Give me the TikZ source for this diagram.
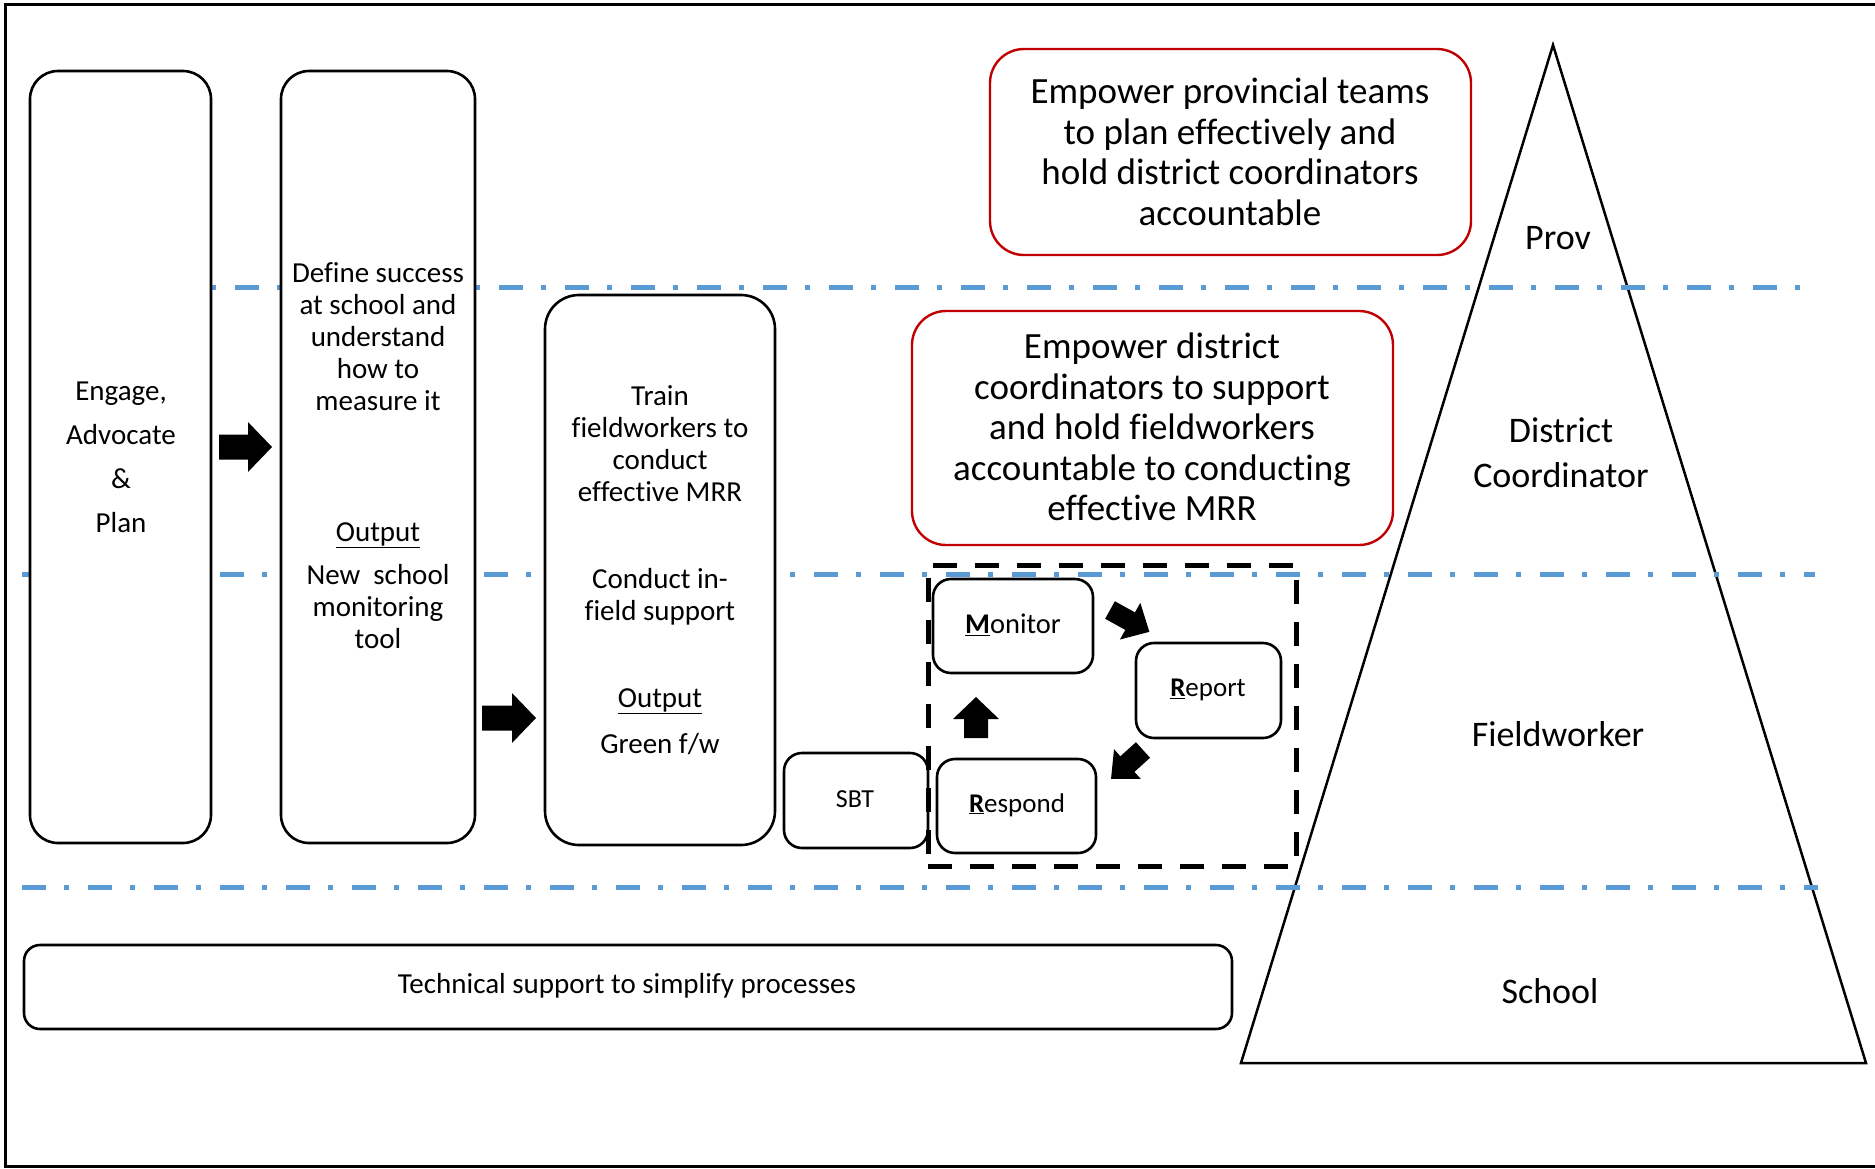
\documentclass[tikz,border=0pt]{standalone}
\usepackage{fontspec}
\setmainfont[Ligatures=NoCommon]{Carlito}
\definecolor{guideblue}{HTML}{5B9BD5}
\definecolor{goalred}{HTML}{C00000}

\tikzset{
  pics/fatarr/.style args={#1/#2/#3/#4}{code={%
    \fill[black] (0,-#2/2) -- (#1-#4,-#2/2) -- (#1-#4,-#3/2) -- (#1,0)
      -- (#1-#4,#3/2) -- (#1-#4,#2/2) -- (0,#2/2) -- cycle;
  }}
}

\begin{document}
\begin{tikzpicture}[x=1pt,y=-1pt,
  stage/.style={draw=black, line width=2.6pt, fill=white, rounded corners=28pt, inner sep=0pt},
  loopbox/.style={draw=black, line width=2.6pt, fill=white, rounded corners=18pt, inner sep=0pt},
  goal/.style={draw=goalred, line width=2.4pt, fill=white, rounded corners=34pt, inner sep=0pt},
  guide/.style={guideblue, line width=5pt, dash pattern=on 24pt off 18pt on 5pt off 19pt},
  txt/.style={align=center, inner sep=0pt, font=\fontsize{29}{32}\selectfont},
  bigtxt/.style={align=center, inner sep=0pt, font=\fontsize{37}{40.5}\selectfont},
  lvltxt/.style={align=center, inner sep=0pt, font=\fontsize{36}{45}\selectfont},
  smalltxt/.style={align=center, inner sep=0pt, font=\fontsize{27}{32}\selectfont},
]
\useasboundingbox (0,0) rectangle (1875,1168);

% outer frame
\draw[line width=3pt] (1885,4) -- (5,4) -- (5,1166) -- (1885,1166);

% level pyramid
\draw[line width=2.5pt, line join=miter] (1553,45) -- (1866,1063) -- (1241,1063) -- cycle;

% level separators
\draw[guide, dash phase=42pt] (211,287) -- (1800,287);
\draw[guide] (22,574) -- (1815,574);
\draw[guide] (22,887) -- (1818,887);

% stage boxes
\node[stage, minimum width=181pt, minimum height=772pt] (engage) at (120.5,457) {};
\node[stage, minimum width=194pt, minimum height=772pt] (define) at (378,457) {};
\node[stage, rounded corners=34pt, minimum width=230pt, minimum height=550pt] (train) at (660,570) {};

\node[txt, font=\fontsize{29}{44}\selectfont] (engagetxt) at (121,457) {Engage,\\Advocate\\\&\\Plan};

\node[txt] (definetxt) at (378,337) {Define success\\at school and\\understand\\how to\\measure it};
\node[txt] (defineout) at (378,535) {\underline{Output}};
\node[txt] (definetool) at (378,607) {New\ \ school\\monitoring\\tool};

\node[txt] (traintxt) at (660,444) {Train\\fieldworkers to\\conduct\\effective MRR};
\node[txt] (trainfield) at (660,597) {Conduct in-\\field support};
\node[txt] (trainout) at (660,701) {\underline{Output}};
\node[txt] (traingreen) at (660,744) {Green f/w};

% block arrows between stages
\coordinate (a1) at (219,447);
\coordinate (a2) at (482,718);
\pic at (a1) {fatarr=53/25/50/24};
\pic at (a2) {fatarr=54/25/50/24};

% goals
\node[goal, minimum width=481pt, minimum height=206pt] (provgoal) at (1230.5,152) {};
\node[bigtxt] (provgoaltxt) at (1230,152) {Empower provincial teams\\to plan effectively and\\hold district coordinators\\accountable};
\node[goal, minimum width=481pt, minimum height=234pt] (distgoal) at (1152.5,428) {};
\node[bigtxt] (distgoaltxt) at (1152,427) {Empower district\\coordinators to support\\and hold fieldworkers\\accountable to conducting\\effective MRR};

% level names
\node[lvltxt] (prov) at (1558,238) {Prov};
\node[lvltxt] (dist) at (1561,453) {District\\Coordinator};
\node[lvltxt] (field) at (1558,734) {Fieldworker};
\node[lvltxt] (school) at (1550,991) {School};

% monitor / report / respond cycle
\node[loopbox, minimum width=144pt, minimum height=95pt] (sbt) at (856,800.5) {};
\node[smalltxt, font=\fontsize{26}{30}\selectfont] (sbttxt) at (855,799) {SBT};
\node[draw=black, line width=5pt, dash pattern=on 24pt off 18pt, minimum width=368pt, minimum height=301pt, inner sep=0pt] (cycle) at (1112,715.5) {};

\node[loopbox, minimum width=160pt, minimum height=94pt] (monitor) at (1013,626) {};
\node[smalltxt, font=\fontsize{28.5}{32}\selectfont] (monitortxt) at (1013,625) {\underline{\textbf{M}}onitor};
\node[loopbox, minimum width=145pt, minimum height=95pt] (report) at (1208.5,690.5) {};
\node[smalltxt] (reporttxt) at (1208,690) {\underline{\textbf{R}}eport};
\node[loopbox, minimum width=159pt, minimum height=94pt] (respond) at (1016.5,806) {};
\node[smalltxt] (respondtxt) at (1017,805) {\underline{\textbf{R}}espond};

\coordinate (c1) at (1110,610);
\coordinate (c2) at (1143,750);
\coordinate (c3) at (976,738);
\pic[rotate=-29] at (c1) {fatarr=45/20/42/22};
\pic[rotate=-138] at (c2) {fatarr=43/21/40/22};
\pic[rotate=90] at (c3) {fatarr=41/24/46/22};

% support bar
\node[stage, rounded corners=16pt, minimum width=1208pt, minimum height=84pt] (tech) at (628,987) {};
\node[smalltxt, font=\fontsize{29}{32}\selectfont] (techtxt) at (627,986) {Technical support to simplify processes};

\end{tikzpicture}
\end{document}
